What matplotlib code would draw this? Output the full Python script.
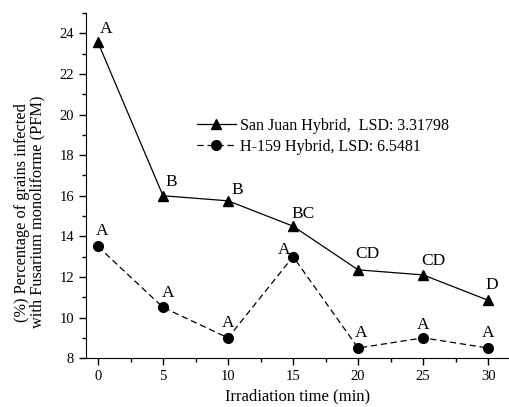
import matplotlib.pyplot as plt
from matplotlib.ticker import MultipleLocator

plt.rcParams['font.family'] = ['Liberation Serif', 'DejaVu Serif']

# irradiation time (min)
time = [0, 5, 10, 15, 20, 25, 30]
# San Juan hybrid
san_juan = [23.55, 16.0, 15.75, 14.5, 12.35, 12.1, 10.85]
san_juan_groups = ['A', 'B', 'B', 'BC', 'CD', 'CD', 'D']
# H-159 hybrid
h159 = [13.5, 10.5, 9.0, 13.0, 8.5, 9.0, 8.5]
h159_groups = ['A', 'A', 'A', 'A', 'A', 'A', 'A']

# label offsets (pixels)
sj_off = [(8, 13), (8, 14), (9, 11), (10, 12), (9, 16), (10, 14), (4, 15)]
h_off = [(4, 15), (5, 14), (0, 15), (-9, 7), (3, 15), (0, 13), (0, 15)]

fig = plt.figure(figsize=(5.09, 4.07), dpi=100)
ax = fig.add_axes([0.169, 0.120, 0.831, 0.848])

ax.plot(time, san_juan, '-', color='black', lw=0.9, marker='^', ms=7.5,
        label='San Juan Hybrid,  LSD: 3.31798')
ax.plot(time, h159, '--', color='black', lw=0.9, marker='o', ms=7, dashes=(5, 3),
        label='H-159 Hybrid, LSD: 6.5481')

for x, y, g, o in zip(time, san_juan, san_juan_groups, sj_off):
    ax.annotate(g, (x, y), xytext=o, textcoords='offset pixels',
                ha='center', va='center', fontsize=12.5)
for x, y, g, o in zip(time, h159, h159_groups, h_off):
    ax.annotate(g, (x, y), xytext=o, textcoords='offset pixels',
                ha='center', va='center', fontsize=12.5)

ax.set_xlim(-0.92, 31.6)
ax.set_ylim(8, 25)
ax.xaxis.set_major_locator(MultipleLocator(5))
ax.xaxis.set_minor_locator(MultipleLocator(2.5))
ax.yaxis.set_major_locator(MultipleLocator(2))
ax.yaxis.set_minor_locator(MultipleLocator(1))
ax.tick_params(which='both', direction='out', labelsize=10.5, width=1)
ax.tick_params(which='major', length=5)
ax.tick_params(which='minor', length=3)
ax.spines['top'].set_visible(False)
ax.spines['right'].set_visible(False)

ax.set_xlabel('Irradiation time (min)', fontsize=12)
ax.set_ylabel('(%) Percentage of grains infected\nwith Fusarium monoliforme (PFM)',
              fontsize=11.8, linespacing=1.0)
ax.yaxis.set_label_coords(-0.095, 0.423)

ax.legend(loc='upper left', bbox_to_anchor=(0.248, 0.715), frameon=False,
          fontsize=11.5, handlelength=2.4, handletextpad=0.3, labelspacing=0.3,
          borderaxespad=0)

fig.savefig('out.png', dpi=100)
